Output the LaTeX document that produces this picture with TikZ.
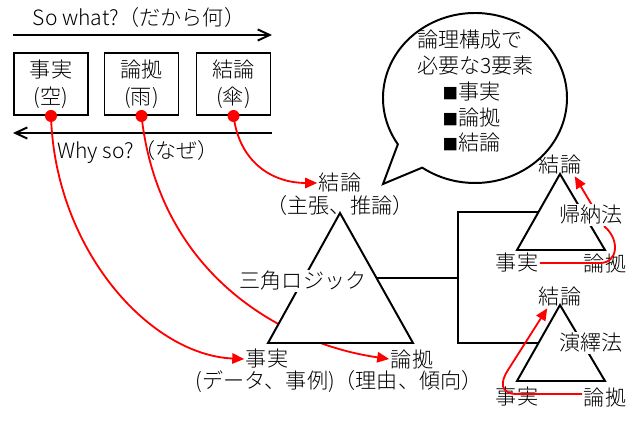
\documentclass[tikz,border=0pt]{standalone}
\usepackage{fontspec}
\setmainfont{Noto Sans CJK JP}[UprightFont=* Light]
\usetikzlibrary{arrows.meta, calc}
\definecolor{logicRed}{HTML}{FF0000}
\definecolor{logicInk}{HTML}{000000}

\begin{document}
\begin{tikzpicture}[x=0.025cm, y=-0.025cm,
    font=\fontsize{15}{19}\selectfont,
    txt/.style={inner sep=1pt, text=logicInk},
    card/.style={draw=logicInk, line width=1.4pt, minimum width=1.85cm,
      minimum height=1.55cm, align=center, inner sep=0pt},
    flow/.style={draw=logicInk, line width=1.4pt,
      -{Straight Barb[length=3mm, width=2.8mm]}},
    link/.style={draw=logicRed, line width=1.3pt,
      -{Triangle[length=3mm, width=2.6mm]}},
    tri/.style={draw=logicInk, line width=1.4pt, fill=white, line join=miter},
    reddot/.style={circle, fill=logicRed, inner sep=0pt, minimum size=0.3cm}]
  \useasboundingbox (0,0) rectangle (639,426);
  % So what
  \node[txt] (sowhat) at (139,17) {So what?（だから何）};
  \coordinate (swL) at (13,35);
  \coordinate (swR) at (272,35);
  \draw[flow] (swL) -- (swR);
  % 三つの箱
  \node[card] (fact) at (51,84) {事実\\(空)};
  \node[card] (reason) at (141.5,84) {論拠\\(雨)};
  \node[card] (concl) at (233.5,84) {結論\\(傘)};
  % Why so
  \coordinate (wsR) at (272,133);
  \coordinate (wsL) at (13,133);
  \draw[flow] (wsR) -- (wsL);
  \node[txt] (whyso) at (138,152) {Why so?（なぜ）};
  % 三角ロジック
  \coordinate (mtop) at (340,213);
  \coordinate (mleft) at (268,343);
  \coordinate (mright) at (413,343);
  \node[txt] (mconc) at (340,183) {結論};
  \node[txt] (mclaim) at (340,205) {（主張、推論）};
  \node[txt] (mfact) at (267,359) {事実};
  \node[txt] (mreas) at (412,359) {論拠};
  \node[txt] (mnote) at (339,382) {(データ、事例)（理由、傾向）};
  % 赤い点と矢印
  \node[reddot] (fdot) at (fact.south) {};
  \node[reddot] (rdot) at (reason.south) {};
  \node[reddot] (cdot) at (concl.south) {};
  \draw[link] (fdot.center) .. controls (55,250) and (150,355) .. (mfact.west);
  \draw[link] (rdot.center) .. controls (160,280) and (290,345) .. (mreas.west);
  \draw[link] (cdot.center) .. controls (240,165) and (275,183) .. (mconc.west);
  \draw[tri] (mtop) -- (mleft) -- (mright) -- cycle;
  \node[fill=white, inner sep=1pt] (mlabel) at (303,281) {三角ロジック};
  % 吹き出し
  \coordinate (bc) at (475,98);
  \coordinate (btip) at (383,184);
  \draw[line width=1.4pt, draw=logicInk, fill=white] (btip)
    -- ($(bc)+(147:92 and 85)$)
    arc[start angle=147, end angle=485, x radius=92, y radius=85] -- cycle;
  \node[anchor=north west, align=left, inner sep=0pt,
    font=\fontsize{15}{18.3}\selectfont] (btext) at (417,30)
    {論理構成で\\必要な3要素\\
     \hspace*{1.2em}{\fontsize{11}{11}\selectfont ■}事実\\
     \hspace*{1.2em}{\fontsize{11}{11}\selectfont ■}論拠\\
     \hspace*{1.2em}{\fontsize{11}{11}\selectfont ■}結論};
  % 帰納法と演繹法
  \coordinate (itop) at (560,174);
  \coordinate (ileft) at (517,250);
  \coordinate (iright) at (605,250);
  \coordinate (dtop) at (560,305);
  \coordinate (dleft) at (517,381);
  \coordinate (dright) at (605,381);
  \coordinate (brk) at (458,278);
  \draw[draw=logicInk, line width=1.4pt] ($(mtop)!0.5!(mright)$) -- (brk);
  \draw[draw=logicInk, line width=1.4pt] ($(itop)!0.5!(ileft)$) -| (brk)
    |- ($(dtop)!0.5!(dleft)$);
  \node[txt] (iconc) at (560,165) {結論};
  \node[txt] (ifact) at (517,263) {事実};
  \node[txt] (ireas) at (605,263) {論拠};
  \node[txt] (dconc) at (560,297) {結論};
  \node[txt] (dfact) at (517,397) {事実};
  \node[txt] (dreas) at (605,397) {論拠};
  \draw[link] (ifact.east) -- (600,263) .. controls (618,263) and (620,240)
    .. (605,227) -- ([shift={(-8,0)}]iconc.south east);
  \draw[link] ([shift={(0,-3)}]dreas.west) -- (517,394)
    .. controls (500,394) and (500,382) .. (508,370)
    -- ([shift={(10,0)}]dconc.south west);
  \draw[tri] (itop) -- (ileft) -- (iright) -- cycle;
  \draw[tri] (dtop) -- (dleft) -- (dright) -- cycle;
  \node[fill=white, inner sep=1pt] (induct) at (591,215) {帰納法};
  \node[fill=white, inner sep=1pt] (deduct) at (591,343) {演繹法};
\end{tikzpicture}
\end{document}
